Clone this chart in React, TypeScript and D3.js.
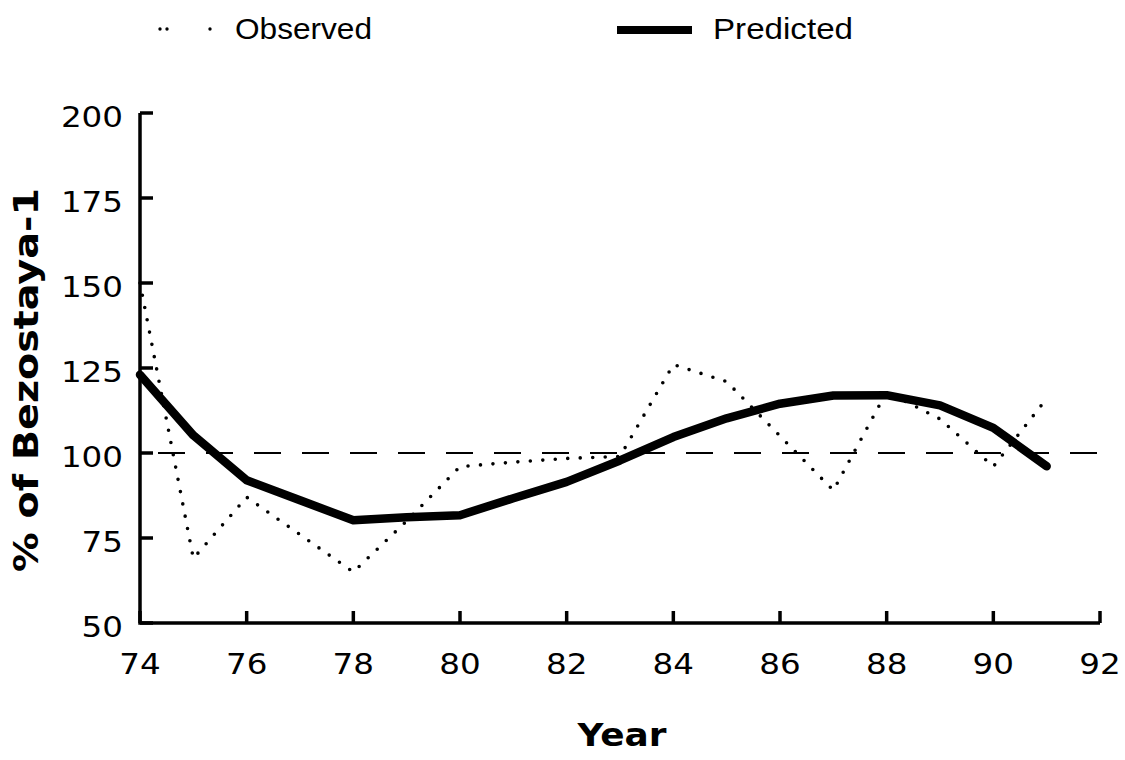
import React from "react";
import * as d3 from "d3";

const years = [74, 75, 76, 77, 78, 79, 80, 81, 82, 83, 84, 85, 86, 87, 88, 89, 90, 91];
const observed = [150, 69, 87, 76, 65, 80, 96, 97.3, 98.4, 99, 126, 121, 105, 89, 118, 110, 96, 116];
const predicted = [123, 105.2, 92, 86.1, 80.2, 81.1, 81.7, 86.7, 91.5, 97.8, 104.7, 110.2, 114.5, 116.9, 117, 114, 107.4, 96.1];
const xTicks = [74, 76, 78, 80, 82, 84, 86, 88, 90, 92];
const yTicks = [50, 75, 100, 125, 150, 175, 200];
const reference = 100;

export default function App() {
  const x = d3.scaleLinear().domain([74, 92]).range([140, 1100]);
  const y = d3.scaleLinear().domain([50, 200]).range([623, 113]);
  const line = d3
    .line<number>()
    .x((_, i) => x(years[i]))
    .y((d) => y(d));
  const digitW = 20.7;
  const font = "'DejaVu Sans', sans-serif";
  return (
    <svg
      width={1125}
      height={760}
      style={{ position: "absolute", left: 0, top: 0, background: "#fff" }}
    >
      {/* legend */}
      <line x1={160} x2={212} y1={29} y2={29} stroke="#000" strokeWidth={3.4} strokeLinecap="round" strokeDasharray="0 7 0 43" />
      <text x={235} y={39} fontFamily="'Liberation Sans', Arial, sans-serif" fontSize={29} textLength={137} lengthAdjust="spacingAndGlyphs">Observed</text>
      <line x1={617} x2={692} y1={30} y2={30} stroke="#000" strokeWidth={8} />
      <text x={713} y={39} fontFamily="'Liberation Sans', Arial, sans-serif" fontSize={29} textLength={140} lengthAdjust="spacingAndGlyphs">Predicted</text>

      {/* reference dashed line */}
      <line x1={x(74) + 18} x2={1116} y1={y(reference)} y2={y(reference)} stroke="#000" strokeWidth={2.2} strokeDasharray="27 21" />

      {/* axes */}
      <path d={`M${x(74)},${y(200)} V${y(50)} H${x(92)}`} fill="none" stroke="#000" strokeWidth={3.5} />
      {yTicks.map((t) => (
        <g key={"y" + t}>
          <line x1={x(74)} x2={x(74) + 13} y1={y(t)} y2={y(t)} stroke="#000" strokeWidth={3.5} />
          <text
            x={123}
            y={y(t) + 14}
            textAnchor="end"
            fontFamily={font}
            fontSize={29}
            textLength={String(t).length * digitW}
            lengthAdjust="spacingAndGlyphs"
          >
            {t}
          </text>
        </g>
      ))}
      {xTicks.map((t) => (
        <g key={"x" + t}>
          <line x1={x(t)} x2={x(t)} y1={y(50)} y2={y(50) - 12} stroke="#000" strokeWidth={3.5} />
          <text
            x={x(t)}
            y={674}
            textAnchor="middle"
            fontFamily={font}
            fontSize={29}
            textLength={String(t).length * digitW}
            lengthAdjust="spacingAndGlyphs"
          >
            {t}
          </text>
        </g>
      ))}

      {/* series */}
      <path d={line(observed) || ""} fill="none" stroke="#000" strokeWidth={3.6} strokeLinecap="round" strokeDasharray="0 12.5" />
      <path d={line(predicted) || ""} fill="none" stroke="#000" strokeWidth={8.5} strokeLinejoin="round" strokeLinecap="round" />

      {/* axis titles */}
      <text x={622} y={746} textAnchor="middle" fontFamily={font} fontWeight="bold" fontSize={32} textLength={89} lengthAdjust="spacingAndGlyphs">Year</text>
      <text
        transform={`translate(38,380) rotate(-90)`}
        textAnchor="middle"
        fontFamily={font}
        fontWeight="bold"
        fontSize={33}
        textLength={384}
        lengthAdjust="spacingAndGlyphs"
      >
        % of Bezostaya-1
      </text>
    </svg>
  );
}
